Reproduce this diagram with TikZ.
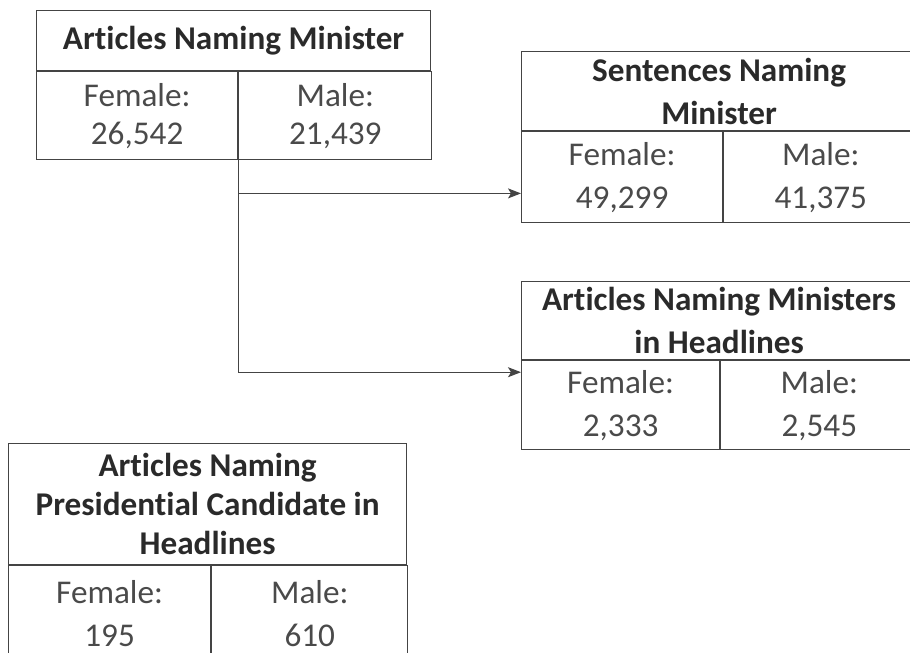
\documentclass[tikz,border=0pt]{standalone}
\usepackage{fontspec}
\setmainfont{Carlito}[Ligatures=NoCommon]
\usetikzlibrary{arrows.meta,positioning}
\definecolor{inkgray}{HTML}{444444}
\definecolor{textgray}{HTML}{2A2A2A}

\begin{document}
\begin{tikzpicture}[
    x=0.5pt, y=-0.5pt,
    font=\fontsize{16.6}{21.5}\selectfont,
    >={Stealth[length=6.5pt, width=5pt, inset=1.5pt]},
    head/.style={draw=inkgray, line width=0.6pt, text=textgray, font=\fontsize{16.6}{21.5}\selectfont\bfseries, align=center, inner sep=0pt, anchor=north west},
    cell/.style={draw=inkgray, line width=0.6pt, text=textgray!85, align=center, inner sep=0pt, anchor=north west},
    arrow/.style={inkgray, ->, line width=0.6pt},
]
    \useasboundingbox (0,0) rectangle (910,653);

    % =====================================================================
    % Articles naming minister
    % =====================================================================
    \node[head, minimum width=197pt, minimum height=30pt] (h1) at (36,10) {Articles Naming Minister};
    \node[cell, minimum width=100.5pt, minimum height=44pt, font=\fontsize{16.6}{19}\selectfont] (f1) at (h1.south west) {Female:\\26,542};
    \node[cell, minimum width=96.5pt, minimum height=44pt, font=\fontsize{16.6}{19}\selectfont] (m1) at (f1.north east) {Male:\\21,439};

    % =====================================================================
    % Sentences naming minister
    % =====================================================================
    \node[head, minimum width=197.5pt, minimum height=39.5pt] (h2) at (521,51) {Sentences Naming\\Minister};
    \node[cell, minimum width=100.5pt, minimum height=45.5pt] (f2) at (h2.south west) {Female:\\49,299};
    \node[cell, minimum width=97pt, minimum height=45.5pt] (m2) at (f2.north east) {Male:\\41,375};

    % =====================================================================
    % Ministers in headlines
    % =====================================================================
    \node[head, minimum width=197.5pt, minimum height=39pt] (h3) at (521,281) {Articles Naming Ministers\\in Headlines};
    \node[cell, minimum width=99pt, minimum height=44.5pt] (f3) at (h3.south west) {Female:\\2,333};
    \node[cell, minimum width=98.5pt, minimum height=44.5pt] (m3) at (f3.north east) {Male:\\2,545};

    % =====================================================================
    % Presidential candidate in headlines
    % =====================================================================
    \node[head, minimum width=199pt, minimum height=60.5pt, font=\fontsize{16.6}{19.5}\selectfont\bfseries] (h4) at (8,443) {Articles Naming\\Presidential Candidate in\\Headlines};
    \node[cell, minimum width=101pt, minimum height=48pt] (f4) at (h4.south west) {Female:\\195};
    \node[cell, minimum width=98pt, minimum height=48pt] (m4) at (f4.north east) {Male:\\610};

    % Connectors
    \coordinate (in2) at ([yshift=15pt]f2.south west);
    \coordinate (in3) at ([yshift=-6pt]f3.north west);
    \draw[arrow] (f1.south east) |- (in2);
    \draw[arrow] (f1.south east) |- (in3);

\end{tikzpicture}
\end{document}
